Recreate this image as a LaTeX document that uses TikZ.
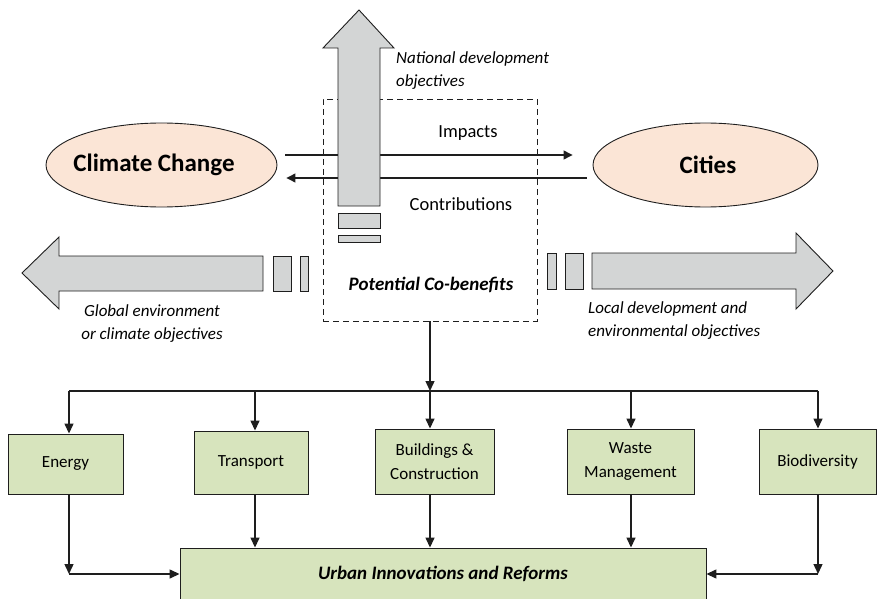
\documentclass[tikz,border=0pt]{standalone}
\usepackage{fontspec}
\setmainfont{Carlito}
\usetikzlibrary{arrows.meta,shapes.geometric}
\definecolor{arrowgray}{HTML}{D3D5D5}
\definecolor{boxgreen}{HTML}{D7E4BD}
\definecolor{ovalpeach}{HTML}{FBE5D6}
\definecolor{ink}{HTML}{1E1E1E}
\begin{document}
\begin{tikzpicture}[x=1pt,y=-1pt,
  blockarrow/.style={fill=arrowgray,draw=ink,line width=0.9pt,line join=miter},
  oval/.style={ellipse,draw=ink,fill=ovalpeach,line width=0.9pt,inner sep=0pt},
  ovaltext/.style={inner sep=0pt,font=\fontsize{25}{29}\selectfont\bfseries},
  sector/.style={rectangle,draw=ink,fill=boxgreen,line width=0.9pt,inner sep=0pt,
    align=center,font=\fontsize{17}{24}\selectfont},
  conn/.style={draw=ink,line width=1.4pt,-{Triangle[length=10pt,width=9pt]}},
  flow/.style={draw=ink,line width=1.2pt,-{Triangle[length=9pt,width=9pt]}},
  plain/.style={draw=ink,line width=1.4pt},
  label/.style={inner sep=0pt,font=\fontsize{18.5}{22}\selectfont},
  objective/.style={inner sep=0pt,font=\fontsize{17}{23}\selectfont\itshape},
]
\useasboundingbox (0,0) rectangle (878,599);

% dashed frame of the co-benefits zone
\node[draw=ink,dashed,line width=0.9pt,dash pattern=on 6pt off 4pt,
  minimum width=214pt,minimum height=222pt,inner sep=0pt] (cobox) at (430,210) {};

% the two poles
\node[oval,minimum width=231pt,minimum height=84pt] (climate) at (161.5,165) {};
\node[ovaltext] (climatetext) at (154,165) {Climate Change};
\node[oval,minimum width=225pt,minimum height=84pt] (cities) at (705.5,165) {};
\node[ovaltext] (citiestext) at (708,165) {Cities};

% impacts and contributions
\draw[flow] ([shift={(8,-10)}]climate.east) -- ([shift={(-20,-10)}]cities.west);
\draw[flow] ([shift={(-6,13)}]cities.west) -- ([shift={(9,13)}]climate.east);
\node[label] (impacts) at (468,133) {Impacts};
\node[label] (contrib) at (461,204) {Contributions};

% upward block arrow: national objectives
\draw[blockarrow] (338,206) -- (338,48) -- (323,48) -- (359,10) -- (394,48) -- (380,48)
  -- (380,206) -- cycle;
\draw[blockarrow] (338,213) rectangle (380,228);
\draw[blockarrow] (338,235) rectangle (380,242);
\node[objective,anchor=west,align=left] (national) at (396,70.5)
  {National development\\objectives};

% leftward block arrow: global objectives
\draw[blockarrow] (263,256) -- (59,256) -- (59,237) -- (22,273) -- (59,309) -- (59,291)
  -- (263,291) -- cycle;
\draw[blockarrow] (273,256) rectangle (291,291);
\draw[blockarrow] (300,256) rectangle (308,291);
\node[objective,align=center] (global) at (152,323.5)
  {Global environment\\or climate objectives};

% rightward block arrow: local objectives
\draw[blockarrow] (592,253) -- (796,253) -- (796,233) -- (833,271) -- (796,309) -- (796,289)
  -- (592,289) -- cycle;
\draw[blockarrow] (547,253) rectangle (556,289);
\draw[blockarrow] (565,253) rectangle (583,289);
\node[objective,anchor=west,align=left] (local) at (588,320.5)
  {Local development and\\environmental objectives};

\node[inner sep=0pt,font=\fontsize{19}{23}\selectfont\bfseries\itshape] (cobtitle)
  at (431,285) {Potential Co-benefits};

% sectors
\node[sector,minimum width=115pt,minimum height=60pt] (energy) at (65.5,464) {Energy};
\node[sector,minimum width=114pt,minimum height=63pt] (transport) at (251,462.5) {Transport};
\node[sector,minimum width=119pt,minimum height=65pt] (buildings) at (434.5,461.5)
  {Buildings \&\\Construction};
\node[sector,minimum width=127pt,minimum height=65pt] (waste) at (630.5,461.5)
  {Waste\\Management};
\node[sector,minimum width=117pt,minimum height=65pt] (bio) at (817.5,461.5) {Biodiversity};
\node[sector,minimum width=526pt,minimum height=52pt,
  font=\fontsize{19}{23}\selectfont\bfseries\itshape] (urban) at (443,574)
  {Urban Innovations and Reforms};

% distribution bus
\coordinate (bus) at (430,391);
\coordinate (eCol) at (69,391);
\coordinate (tCol) at (255,391);
\coordinate (wCol) at (631,391);
\coordinate (bCol) at (818,391);
\draw[conn] (cobox.south) -- (bus);
\draw[plain] (eCol) -- (bCol);
\draw[conn] (eCol) -- (eCol |- energy.north);
\draw[conn] (tCol) -- (tCol |- transport.north);
\draw[conn] (bus) -- (bus |- buildings.north);
\draw[conn] (wCol) -- (wCol |- waste.north);
\draw[conn] (bCol) -- (bCol |- bio.north);

% into urban innovations
\coordinate (eCorner) at (eCol |- urban.west);
\coordinate (bCorner) at (bCol |- urban.east);
\draw[conn] (eCol |- energy.south) -- (eCorner);
\draw[conn] (eCorner) -- (urban.west);
\draw[conn] (tCol |- transport.south) -- (tCol |- urban.north);
\draw[conn] (bus |- buildings.south) -- (bus |- urban.north);
\draw[conn] (wCol |- waste.south) -- (wCol |- urban.north);
\draw[conn] (bCol |- bio.south) -- (bCorner);
\draw[conn] (bCorner) -- (urban.east);
\end{tikzpicture}
\end{document}
